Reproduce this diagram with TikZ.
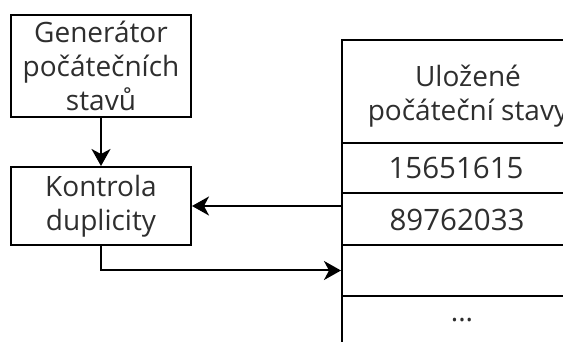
\documentclass[tikz,border=0pt]{standalone}
\usepackage{fontspec}
\setmainfont{Open Sans}
\usetikzlibrary{arrows.meta,calc}
\begin{document}
\begin{tikzpicture}[x=1pt,y=-1pt,
  box/.style={draw=black,line width=2pt,fill=white,align=center,inner sep=0pt,
    text=black!82,font=\fontsize{28}{34}\selectfont},
  cell/.style={draw=black,line width=2pt,inner sep=0pt},
  lbl/.style={text=black!82,font=\fontsize{28}{34}\selectfont,align=center,inner sep=0pt},
  conn/.style={line width=2pt,-{Stealth[length=17pt,width=19pt,inset=5pt]}}]
\path[use as bounding box,clip] (0,0) rectangle (563,342);
\node[box,minimum width=180pt,minimum height=102pt] (gen) at (101,66) {Generátor\\počátečních\\stavů};
\node[box,minimum width=180pt,minimum height=78pt] (ctrl) at (101,206) {Kontrola\\duplicity};
\node[cell,minimum width=252pt,minimum height=103pt] (hd) at (468,91.5) {};
\node[cell,minimum width=252pt,minimum height=50pt] (r1) at (468,168) {};
\node[cell,minimum width=252pt,minimum height=52pt] (r2) at (468,219) {};
\node[cell,minimum width=252pt,minimum height=51pt] (r3) at (468,270.5) {};
\node[cell,minimum width=252pt,minimum height=80pt] (r4) at (468,336) {};
\node[lbl] (hdt) at (468,96) {Uložené\\počáteční stavy};
\node[lbl,font=\fontsize{29.5}{34}\selectfont] (r1t) at (456,168) {15651615};
\node[lbl,font=\fontsize{29.5}{34}\selectfont] (r2t) at (457,220) {89762033};
\node[lbl] (r4t) at (462,320) {...};
\draw[conn] (gen.south) -- (ctrl.north);
\draw[conn] (r2.west |- ctrl.east) -- (ctrl.east);
\draw[conn] (ctrl.south) |- (r3.west);
\end{tikzpicture}
\end{document}
